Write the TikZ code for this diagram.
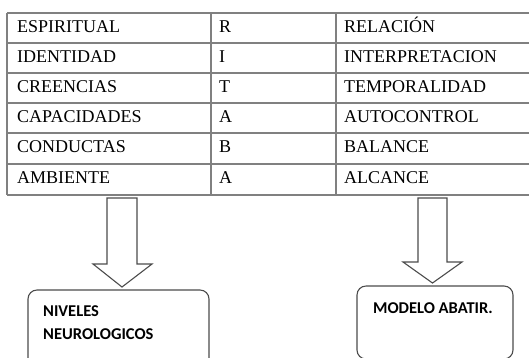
\documentclass[tikz,border=0pt]{standalone}
\usepackage{fontspec}
\setmainfont{Liberation Serif}
\newfontfamily\boxfont{Carlito}
\begin{document}
\begin{tikzpicture}[x=1pt,y=-1pt,
    grid/.style={draw=black!50, line width=1.1pt},
    cell/.style={anchor=base west, inner sep=0pt, font=\fontsize{18}{18}\selectfont},
    blockarrow/.style={draw=black!70, line width=1.1pt, line join=miter},
    resultbox/.style={draw=black!70, line width=1.1pt, rounded corners=9pt},
    boxtext/.style={inner sep=0pt, font=\boxfont\bfseries\fontsize{16.5}{23}\selectfont}]
    \useasboundingbox (0,0) rectangle (529,357);
    \clip (0,0) rectangle (529,357);
    
    % table
    \foreach \y in {13,43,73,103,133,164,195}
        \draw[grid] (7,\y) -- (540,\y);
    \foreach \x in {7,211,336}
        \draw[grid] (\x,13) -- (\x,195);
    \foreach \a/\b/\c/\t [count=\i] in {ESPIRITUAL/R/RELACIÓN/13, IDENTIDAD/I/INTERPRETACION/43,
        CREENCIAS/T/TEMPORALIDAD/73, CAPACIDADES/A/AUTOCONTROL/103,
        CONDUCTAS/B/BALANCE/133, AMBIENTE/A/ALCANCE/164}
    {
        \node[cell] (nivel-\i) at (17,\t+19) {\a};
        \node[cell] (letra-\i) at (219,\t+19) {\b};
        \node[cell] (abatir-\i) at (344,\t+19) {\c};
    }
    
    % arrows
    \draw[blockarrow] (107,198) -- (137,198) -- (137,264) -- (152,264) -- (122,287)
        -- (93,264) -- (107,264) -- cycle;
    \draw[blockarrow] (418,198) -- (447,198) -- (447,262) -- (462,262) -- (432.5,283)
        -- (403,262) -- (418,262) -- cycle;
    
    % boxes
    \draw[resultbox] (28,290) rectangle (209,375);
    \draw[resultbox] (357,286) rectangle (513,359);
    \node[boxtext, anchor=base west, align=left] (niveles) at (43,339) {NIVELES\\NEUROLOGICOS};
    \node[boxtext, anchor=base] (modelo) at (433,313) {MODELO ABATIR.};
\end{tikzpicture}
\end{document}
